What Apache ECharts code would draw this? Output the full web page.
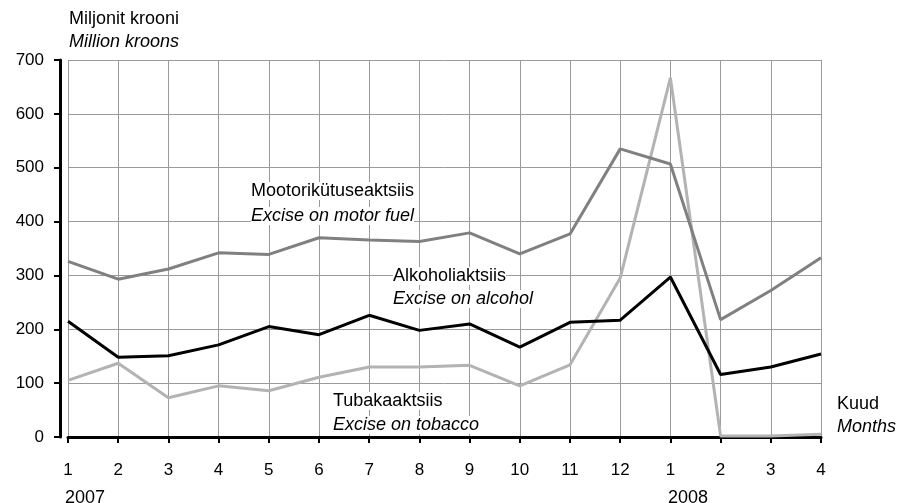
<!DOCTYPE html>
<html>
<head>
<meta charset="utf-8">
<script src="https://cdn.jsdelivr.net/npm/echarts@6/dist/echarts.min.js"></script>
<style>
  html, body { margin: 0; padding: 0; background: #fff; }
  #chart { width: 898px; height: 503px; }
</style>
</head>
<body>
<div id="chart"></div>
<script>
// kuud: 2007/01 .. 2008/04
const periods = ['2007-01','2007-02','2007-03','2007-04','2007-05','2007-06','2007-07','2007-08',
  '2007-09','2007-10','2007-11','2007-12','2008-01','2008-02','2008-03','2008-04']
const monthLabels = ['1','2','3','4','5','6','7','8','9','10','11','12','1','2','3','4']

// miljonit krooni
const motorFuel = [326, 293, 312, 342, 339, 370, 366, 363, 379, 340, 377, 535, 507, 218, 272, 333]
const alcohol = [215, 148, 151, 171, 205, 190, 226, 198, 210, 167, 213, 217, 297, 116, 130, 154]
const tobacco = [105, 137, 73, 95, 86, 111, 130, 130, 133, 95, 134, 295, 667, 2, 2, 5]

const FONT = 'Liberation Sans'

const chart = echarts.init(document.getElementById('chart'))

// tekstisildid valge taustaga (katab ruudustiku)
const lbl = (left, top, text, italic) => ({
  type: 'text',
  left: left,
  top: top,
  z: 100,
  style: {
    text: text,
    font: (italic ? 'italic ' : '') + '18px "' + FONT + '"',
    fill: '#000',
    backgroundColor: '#fff'
  }
})

chart.setOption({
  animation: false,
  backgroundColor: '#fff',
  grid: { left: 68, right: 77, top: 60, bottom: 66 },
  xAxis: {
    type: 'category',
    data: periods,
    boundaryGap: false,
    offset: 12,
    axisLine: { show: true, lineStyle: { color: '#000', width: 3 } },
    axisTick: { show: true, length: 6, lineStyle: { color: '#000', width: 2 } },
    axisLabel: {
      margin: 13,
      color: '#000',
      fontFamily: FONT,
      fontSize: 17,
      interval: 0,
      formatter: (v, i) => monthLabels[i]
    },
    splitLine: { show: true, lineStyle: { color: '#9a9a9a', width: 1 } }
  },
  yAxis: {
    type: 'value',
    min: 0,
    max: 700,
    interval: 100,
    offset: 8,
    axisLine: { show: true, lineStyle: { color: '#000', width: 3 } },
    axisTick: { show: true, length: 6, lineStyle: { color: '#000', width: 2 } },
    axisLabel: { margin: 16, color: '#000', fontFamily: FONT, fontSize: 17 },
    splitLine: { show: true, lineStyle: { color: '#9a9a9a', width: 1 } }
  },
  series: [
    {
      name: 'Mootorikütuseaktsiis',
      type: 'line',
      data: motorFuel,
      symbol: 'none',
      lineStyle: { color: '#808080', width: 3 },
      z: 3
    },
    {
      name: 'Alkoholiaktsiis',
      type: 'line',
      data: alcohol,
      symbol: 'none',
      lineStyle: { color: '#000', width: 3 },
      z: 4
    },
    {
      name: 'Tubakaaktsiis',
      type: 'line',
      data: tobacco,
      symbol: 'none',
      lineStyle: { color: '#b3b3b3', width: 3 },
      z: 2
    }
  ],
  graphic: [
    lbl(69, 10, 'Miljonit krooni'),
    lbl(69, 33, 'Million kroons', true),
    lbl(251, 182, 'Mootorikütuseaktsiis'),
    lbl(251, 207, 'Excise on motor fuel', true),
    lbl(393, 267, 'Alkoholiaktsiis'),
    lbl(393, 290, 'Excise on alcohol', true),
    lbl(333, 392, 'Tubakaaktsiis'),
    lbl(333, 416, 'Excise on tobacco', true),
    lbl(837, 395, 'Kuud'),
    lbl(837, 418, 'Months', true),
    lbl(65, 489, '2007'),
    lbl(668, 489, '2008')
  ]
})
</script>
</body>
</html>
